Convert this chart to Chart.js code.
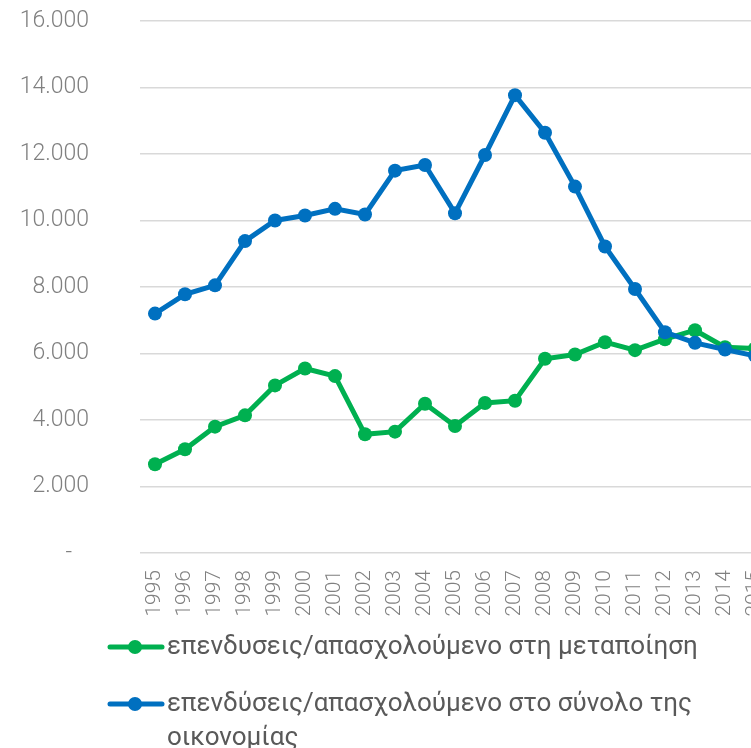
<!DOCTYPE html>
<html>
<head>
<meta charset="utf-8">
<script src="https://cdn.jsdelivr.net/npm/chart.js@4"></script>
<style>
html,body{margin:0;padding:0;background:#fff;overflow:hidden;}
#wrap{position:relative;width:800px;height:748px;}
</style>
</head>
<body>
<div id="wrap"><canvas id="c" width="800" height="748"></canvas></div>
<script>
const years = ['1995','1996','1997','1998','1999','2000','2001','2002','2003','2004','2005','2006','2007','2008','2009','2010','2011','2012','2013','2014','2015'];
const manufacturing = [2670,3120,3800,4140,5040,5550,5320,3570,3650,4490,3820,4510,4580,5840,5970,6340,6100,6430,6700,6190,6150];
const economy = [7200,7780,8050,9380,10000,10150,10350,10180,11500,11670,10220,11970,13770,12640,11020,9220,7940,6640,6320,6120,5930];
const seriesLabels = ['επενδυσεις/απασχολούμενο στη μεταποίηση','επενδύσεις/απασχολούμενο στο σύνολο της οικονομίας'];
const seriesColors = ['#00B050','#0070C0'];
const yMin = 0, yMax = 16000, yStep = 2000;

function fmt(v){
  if (v === 0) return '-   ';
  return String(v).replace(/\B(?=(\d{3})+(?!\d))/g, '.');
}

const legendPlugin = {
  id: 'customLegend',
  afterDraw(chart){
    const ctx = chart.ctx;
    const ca = chart.chartArea;
    ctx.save();
    ctx.font = '400 26px Roboto';
    ctx.textBaseline = 'middle';
    ctx.textAlign = 'left';
    const textX = 167, maxW = 751 - textX - 30, lineH = 34;
    let y = ca.bottom + 94;
    chart.data.datasets.forEach((ds) => {
      ctx.strokeStyle = ds.borderColor;
      ctx.lineWidth = 5;
      ctx.lineCap = 'round';
      ctx.beginPath(); ctx.moveTo(110, y); ctx.lineTo(162, y); ctx.stroke();
      ctx.fillStyle = ds.borderColor;
      ctx.beginPath(); ctx.arc(135, y, 7, 0, Math.PI*2); ctx.fill();
      const words = ds.label.split(' ');
      const lines = []; let cur = '';
      words.forEach(w => {
        const t = cur ? cur + ' ' + w : w;
        if (ctx.measureText(t).width > maxW && cur) { lines.push(cur); cur = w; } else cur = t;
      });
      if (cur) lines.push(cur);
      ctx.fillStyle = '#595959';
      lines.forEach((ln, i) => ctx.fillText(ln, textX, y + i*lineH));
      y += 57 + (lines.length-1)*lineH;
    });
    ctx.restore();
  }
};

new Chart(document.getElementById('c'), {
  type: 'line',
  data: {
    labels: years,
    datasets: [
      {label: seriesLabels[0], data: manufacturing, borderColor: seriesColors[0], backgroundColor: seriesColors[0],
       borderWidth: 5, pointRadius: 7, pointBorderWidth: 0, pointBackgroundColor: seriesColors[0], tension: 0, order: 1},
      {label: seriesLabels[1], data: economy, borderColor: seriesColors[1], backgroundColor: seriesColors[1],
       borderWidth: 5, pointRadius: 7, pointBorderWidth: 0, pointBackgroundColor: seriesColors[1], tension: 0, order: 0}
    ]
  },
  options: {
    responsive: false,
    animation: false,
    layout: {padding: {top: 21, right: 30, left: 0, bottom: 0}},
    plugins: {legend: {display: false}, tooltip: {enabled: false}},
    scales: {
      x: {
        offset: true,
        grid: {display: false, drawTicks: false},
        border: {display: false},
        ticks: {color: '#808080', font: {family: 'Roboto', size: 21, weight: 300}, minRotation: 90, maxRotation: 90, padding: 17, autoSkip: false},
        afterFit(s){ s.height = 195; s.paddingTop = 0; s.paddingBottom = 0; }
      },
      y: {
        min: yMin, max: yMax,
        grid: {color: '#d9d9d9', lineWidth: 1.5, drawTicks: false},
        border: {display: false},
        ticks: {stepSize: yStep, color: '#808080', font: {family: 'Roboto', size: 23, weight: 300}, padding: 51, callback: (v) => fmt(v)},
        afterFit(s){ s.width = 140; s.paddingTop = 0; s.paddingBottom = 0; }
      }
    }
  },
  plugins: [legendPlugin]
});
</script>
</body>
</html>
